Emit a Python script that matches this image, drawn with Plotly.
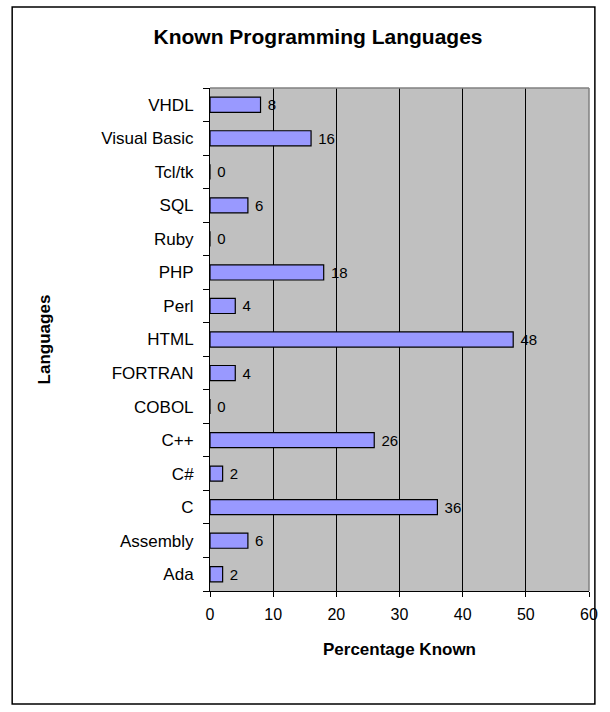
import plotly.graph_objects as go

# Survey results: share of respondents who know each language
languages = ["Ada", "Assembly", "C", "C#", "C++", "COBOL", "FORTRAN", "HTML",
             "Perl", "PHP", "Ruby", "SQL", "Tcl/tk", "Visual Basic", "VHDL"]
percent_known = [2, 6, 36, 2, 26, 0, 4, 48, 4, 18, 0, 6, 0, 16, 8]
x_ticks = [0, 10, 20, 30, 40, 50, 60]

FONT = "Liberation Sans, Arial, sans-serif"

# plot-area placement in pixels
W, H = 610, 712
L, R, T, B = 210, 597, 88, 591


def px_x(p):
    return (p - L) / (R - L)


def px_y(p):
    return (B - p) / (B - T)


fig = go.Figure(
    go.Bar(
        x=percent_known,
        y=languages,
        orientation="h",
        marker=dict(color="#9999FF", line=dict(color="#000000", width=1.2)),
        # a non-breaking space pushes each value label a little off the bar end
        text=["\u00a0" + str(v) for v in percent_known],
        textposition="outside",
        constraintext="none",
        textfont=dict(family=FONT, size=15, color="#000000"),
        cliponaxis=False,
        width=0.45,
    )
)

fig.update_layout(
    width=W,
    height=H,
    margin=dict(l=L, r=W - R, t=T, b=H - B, pad=0),
    paper_bgcolor="#FFFFFF",
    plot_bgcolor="#C0C0C0",
    showlegend=False,
    font=dict(family=FONT, color="#000000"),
    title=dict(
        text="<b>Known Programming Languages</b>",
        font=dict(family=FONT, size=21, color="#000000"),
        x=318 / W,
        xref="container",
        xanchor="center",
        y=1 - 37 / H,
        yref="container",
        yanchor="middle",
    ),
    xaxis=dict(
        range=[0, 60],
        tickvals=x_ticks,
        ticktext=[str(t) for t in x_ticks],
        showgrid=True,
        gridcolor="#000000",
        gridwidth=1,
        zeroline=False,
        showline=True,
        linecolor="#000000",
        linewidth=1,
        ticks="outside",
        ticklen=5,
        tickcolor="#000000",
        ticklabelstandoff=4,
        tickfont=dict(family=FONT, size=16, color="#000000"),
        title=dict(text="<b>Percentage Known</b>",
                   font=dict(family=FONT, size=17, color="#000000"),
                   standoff=20),
        fixedrange=True,
    ),
    yaxis=dict(
        type="category",
        categoryorder="array",
        categoryarray=languages,
        showgrid=False,
        zeroline=False,
        showline=True,
        linecolor="#000000",
        linewidth=1,
        ticks="outside",
        tickson="boundaries",
        ticklen=6,
        tickcolor="#000000",
        tickfont=dict(family=FONT, size=17, color="#000000"),
        ticklabelstandoff=12,
        title=dict(text="<b>Languages</b>",
                   font=dict(family=FONT, size=17, color="#000000"),
                   standoff=46),
        fixedrange=True,
    ),
    shapes=[
        # outer chart frame
        dict(type="rect", xref="paper", yref="paper",
             x0=px_x(8), x1=px_x(603), y0=px_y(704), y1=px_y(7),
             line=dict(color="#000000", width=1.5), layer="below"),
        # plot-area border along the top and right edges
        dict(type="line", xref="paper", yref="paper",
             x0=0, x1=1, y0=1, y1=1,
             line=dict(color="#808080", width=1.5), layer="above"),
        dict(type="line", xref="paper", yref="paper",
             x0=1, x1=1, y0=0, y1=1,
             line=dict(color="#808080", width=1.5), layer="above"),
    ],
)

fig.write_html("out.html")
